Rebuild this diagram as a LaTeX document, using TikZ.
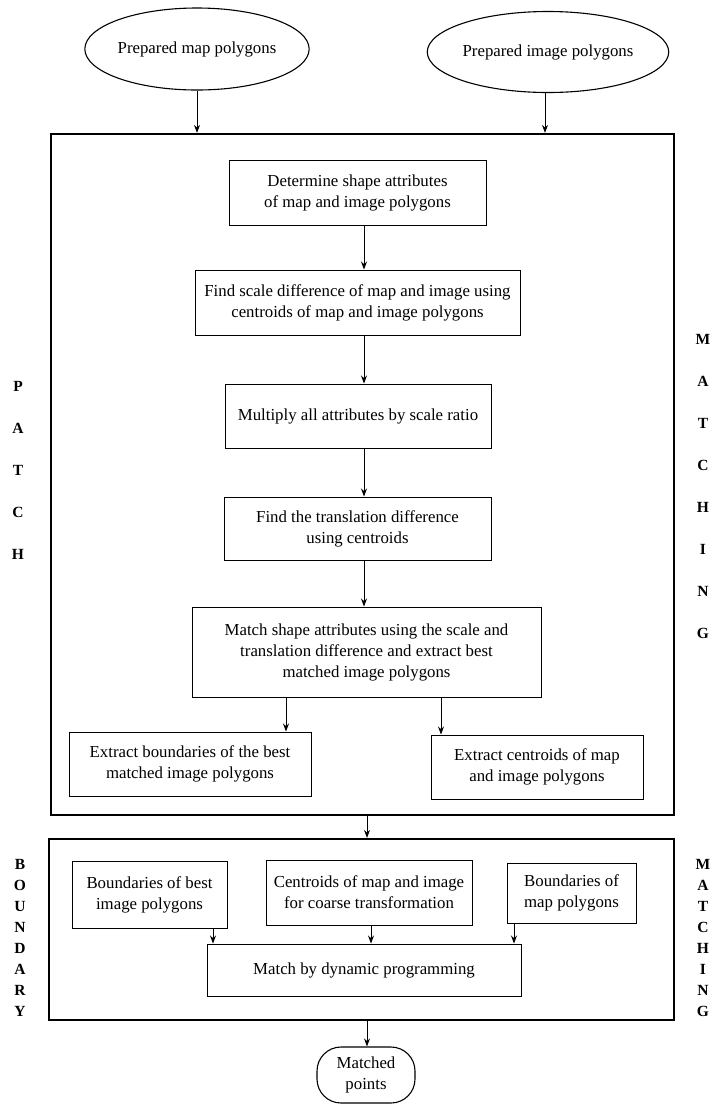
\documentclass[tikz,border=0pt]{standalone}
\usepackage{fontspec}
\setmainfont{Liberation Serif}
\usetikzlibrary{arrows.meta,shapes.geometric}

\tikzset{
  txt/.style={font=\fontsize{16.8}{21}\selectfont, align=center},
  procbox/.style={draw, line width=1pt, rectangle, inner sep=0pt, txt},
  stage/.style={draw, line width=2.2pt, rectangle, inner sep=0pt},
  source/.style={draw, line width=1.1pt, ellipse, inner sep=0pt, txt},
  sink/.style={draw, line width=1.1pt, rectangle, rounded corners=24pt, inner sep=0pt, txt},
  arr/.style={line width=0.9pt, -{Stealth[length=8pt,width=6pt]}},
  sidelabel/.style={font=\bfseries\fontsize{15.5}{42}\selectfont, align=center, inner sep=0pt},
  sidelabeltight/.style={font=\bfseries\fontsize{15.5}{21}\selectfont, align=center, inner sep=0pt}
}

\begin{document}
\begin{tikzpicture}[x=1pt,y=-1pt]
\useasboundingbox (0,0) rectangle (713,1104);

% inputs
\node[source, minimum width=170pt, minimum height=82pt] (mapin) at (197,49) {Prepared map polygons};
\node[source, minimum width=198pt, minimum height=81pt] (imgin) at (548,52) {Prepared image polygons};

% patch matching stage
\node[stage, minimum width=623pt, minimum height=681pt] (patch) at (362.5,474.5) {};

\node[procbox, minimum width=257pt, minimum height=65pt] (attr) at (357.5,192.5)
  {Determine shape attributes\\of map and image polygons};
\node[procbox, minimum width=325pt, minimum height=65pt] (scale) at (357.5,302.5)
  {Find scale difference of map and image using\\centroids of map and image polygons};
\node[procbox, minimum width=266pt, minimum height=64pt] (mult) at (358,416)
  {Multiply all attributes by scale ratio};
\node[procbox, minimum width=267pt, minimum height=63pt] (trans) at (357.5,528.5)
  {Find the translation difference\\using centroids};
\node[procbox, minimum width=349pt, minimum height=90pt] (match) at (366.5,652)
  {Match shape attributes using the scale and\\translation difference and extract best\\matched image polygons};
\node[procbox, minimum width=242pt, minimum height=64pt] (bnd) at (190,764)
  {Extract boundaries of the best\\matched image polygons};
\node[procbox, minimum width=212pt, minimum height=64pt] (cent) at (537,767)
  {Extract centroids of map\\and image polygons};

% boundary matching stage
\node[stage, minimum width=625pt, minimum height=181pt] (boundary) at (361.5,929.5) {};

\node[procbox, minimum width=155pt, minimum height=67pt] (bimg) at (149.5,894.5)
  {Boundaries of best\\image polygons};
\node[procbox, minimum width=206pt, minimum height=65pt] (ccoarse) at (369,892.5)
  {Centroids of map and image\\for coarse transformation};
\node[procbox, minimum width=129pt, minimum height=60pt] (bmap) at (571.5,893)
  {Boundaries of\\map polygons};
\node[procbox, minimum width=314pt, minimum height=52pt] (dp) at (364,970)
  {Match by dynamic programming};

% output
\node[sink, minimum width=98pt, minimum height=56pt] (out) at (366,1075)
  {Matched\\points};

% side labels
\node[sidelabel] (lpatch) at (18,470) {P\\A\\T\\C\\H};
\node[sidelabel] (rmatch) at (703,486) {M\\A\\T\\C\\H\\I\\N\\G};
\node[sidelabeltight] (lbound) at (20,938) {B\\O\\U\\N\\D\\A\\R\\Y};
\node[sidelabeltight] (rmatch2) at (703,938) {M\\A\\T\\C\\H\\I\\N\\G};

% column positions of the connectors
\coordinate (xmain) at (364,0);
\coordinate (xl) at (286,0);
\coordinate (xr) at (441,0);
\coordinate (xmid) at (367,0);
\coordinate (xa) at (213,0);
\coordinate (xb) at (371,0);
\coordinate (xc) at (514,0);
\coordinate (xin2) at (545,0);

% connectors
\draw[arr] (mapin.south) -- (mapin.south |- patch.north);
\draw[arr] (imgin.south -| xin2) -- (xin2 |- patch.north);
\draw[arr] (attr.south -| xmain) -- (scale.north -| xmain);
\draw[arr] (scale.south -| xmain) -- (mult.north -| xmain);
\draw[arr] (mult.south -| xmain) -- (trans.north -| xmain);
\draw[arr] (trans.south -| xmain) -- (match.north -| xmain);
\draw[arr] (match.south -| xl) -- (bnd.north -| xl);
\draw[arr] (match.south -| xr) -- (cent.north -| xr);
\draw[arr] (patch.south -| xmid) -- (boundary.north -| xmid);
\draw[arr] (bimg.south -| xa) -- (dp.north -| xa);
\draw[arr] (ccoarse.south -| xb) -- (dp.north -| xb);
\draw[arr] (bmap.south -| xc) -- (dp.north -| xc);
\draw[arr] (boundary.south -| xmid) -- (out.north -| xmid);
\end{tikzpicture}
\end{document}
